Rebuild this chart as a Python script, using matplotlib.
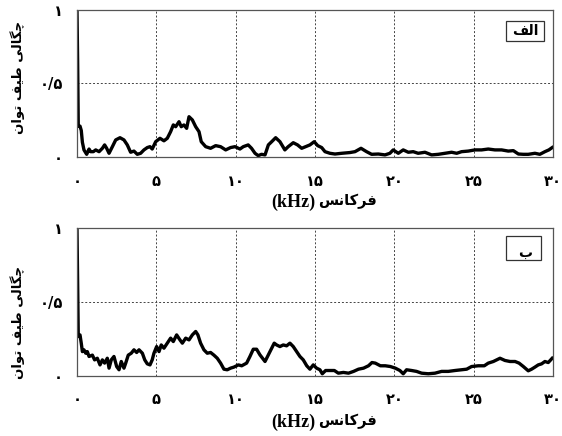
import matplotlib
matplotlib.use("Agg")
import matplotlib.pyplot as plt
from matplotlib.ticker import FixedLocator
from matplotlib.patches import Rectangle

# ---------------- data ----------------
freq_a = [0.0, 0.04, 0.08, 0.19, 0.27, 0.34, 0.44, 0.61, 0.76, 0.86, 1.03, 1.18, 1.39, 1.6, 1.74,
          1.87, 2.02, 2.23, 2.44, 2.71, 2.96, 3.17, 3.38, 3.59, 3.8, 4.01, 4.22, 4.43, 4.6,
          4.74, 4.96, 5.23, 5.48, 5.69, 5.9, 6.07, 6.22, 6.43, 6.57, 6.74, 6.91, 7.06, 7.27,
          7.48, 7.69, 7.83, 8.11, 8.42, 8.74, 9.05, 9.37, 9.68, 9.96, 10.27, 10.48, 10.79,
          11.0, 11.22, 11.42, 11.63, 11.85, 12.06, 12.27, 12.52, 12.79, 13.1, 13.31, 13.63,
          13.9, 14.16, 14.41, 14.68, 14.95, 15.17, 15.42, 15.63, 15.94, 16.26, 16.68, 17.2,
          17.52, 17.9, 18.25, 18.57, 18.99, 19.41, 19.72, 19.93, 20.25, 20.56, 20.88, 21.19,
          21.5, 21.93, 22.35, 22.77, 23.19, 23.61, 23.93, 24.24, 24.66, 25.08, 25.5, 25.92,
          26.34, 26.76, 27.18, 27.5, 27.82, 28.13, 28.44, 28.86, 29.17, 29.49, 29.74, 29.95]
psd_a = [1.0, 0.65, 0.21, 0.21, 0.18, 0.10, 0.048, 0.018, 0.054, 0.036, 0.036, 0.048, 0.036,
         0.059, 0.082, 0.059, 0.025, 0.07, 0.116, 0.131, 0.116, 0.082, 0.032, 0.04, 0.018,
         0.025, 0.048, 0.064, 0.07, 0.054, 0.104, 0.127, 0.11, 0.127, 0.172, 0.218, 0.206,
         0.24, 0.206, 0.218, 0.195, 0.274, 0.252, 0.206, 0.172, 0.104, 0.07, 0.059, 0.077,
         0.07, 0.048, 0.064, 0.07, 0.054, 0.07, 0.082, 0.059, 0.025, 0.009, 0.018, 0.014,
         0.082, 0.104, 0.131, 0.104, 0.048, 0.07, 0.097, 0.082, 0.059, 0.07, 0.082, 0.104,
         0.077, 0.064, 0.036, 0.025, 0.02, 0.025, 0.03, 0.036, 0.059, 0.036, 0.018, 0.02,
         0.014, 0.025, 0.048, 0.025, 0.048, 0.032, 0.036, 0.025, 0.032, 0.014, 0.018, 0.025,
         0.032, 0.025, 0.036, 0.04, 0.048, 0.048, 0.054, 0.048, 0.048, 0.04, 0.043, 0.02,
         0.018, 0.018, 0.025, 0.018, 0.036, 0.048, 0.064]

freq_b = [0.0, 0.04, 0.08, 0.19, 0.27, 0.34, 0.44, 0.55, 0.65, 0.76, 0.97, 1.11, 1.28, 1.45,
          1.6, 1.74, 1.91, 2.02, 2.16, 2.33, 2.5, 2.65, 2.79, 2.96, 3.07, 3.23, 3.42, 3.59,
          3.76, 3.91, 4.12, 4.27, 4.43, 4.6, 4.74, 4.85, 5.02, 5.17, 5.31, 5.48, 5.69, 5.9,
          6.07, 6.28, 6.49, 6.64, 6.85, 7.06, 7.27, 7.48, 7.62, 7.79, 8.0, 8.21, 8.42, 8.63,
          8.84, 9.05, 9.26, 9.47, 9.68, 9.89, 10.17, 10.38, 10.69, 10.9, 11.11, 11.32, 11.53,
          11.85, 12.06, 12.27, 12.43, 12.58, 12.79, 13.0, 13.21, 13.42, 13.63, 13.84, 14.05,
          14.26, 14.48, 14.68, 14.89, 15.1, 15.31, 15.46, 15.67, 15.94, 16.22, 16.47, 16.79,
          17.11, 17.43, 17.74, 18.06, 18.37, 18.59, 18.8, 19.12, 19.43, 19.75, 20.06, 20.35,
          20.56, 20.77, 21.09, 21.4, 21.72, 22.14, 22.56, 22.98, 23.4, 23.82, 24.24, 24.56,
          24.87, 25.29, 25.67, 25.92, 26.24, 26.66, 26.97, 27.29, 27.61, 27.86, 28.13, 28.44,
          28.65, 28.86, 29.07, 29.28, 29.49, 29.7, 29.95]
psd_b = [1.0, 0.65, 0.266, 0.277, 0.22, 0.164, 0.176, 0.153, 0.164, 0.131, 0.14, 0.108, 0.119,
         0.074, 0.108, 0.086, 0.119, 0.052, 0.108, 0.131, 0.063, 0.041, 0.097, 0.052, 0.086,
         0.14, 0.153, 0.176, 0.158, 0.176, 0.153, 0.108, 0.081, 0.074, 0.108, 0.153, 0.198,
         0.164, 0.209, 0.187, 0.221, 0.255, 0.232, 0.277, 0.243, 0.221, 0.255, 0.243, 0.277,
         0.30, 0.277, 0.221, 0.176, 0.153, 0.158, 0.14, 0.119, 0.086, 0.045, 0.041, 0.052,
         0.059, 0.074, 0.068, 0.086, 0.131, 0.18, 0.18, 0.142, 0.097, 0.142, 0.187, 0.221,
         0.209, 0.198, 0.209, 0.203, 0.221, 0.198, 0.164, 0.131, 0.108, 0.068, 0.045, 0.074,
         0.052, 0.041, 0.014, 0.036, 0.036, 0.036, 0.018, 0.023, 0.018, 0.03, 0.045, 0.052,
         0.068, 0.09, 0.086, 0.068, 0.068, 0.063, 0.052, 0.036, 0.014, 0.041, 0.036, 0.03,
         0.018, 0.014, 0.018, 0.03, 0.03, 0.036, 0.041, 0.045, 0.063, 0.068, 0.068, 0.086,
         0.097, 0.119, 0.104, 0.097, 0.097, 0.086, 0.063, 0.034, 0.045, 0.059, 0.074, 0.081,
         0.097, 0.09, 0.119]

x_ticks = [0, 5, 10, 15, 20, 25, 30]
x_tick_labels = ["\u06F0", "\u06F5", "\u06F1\u06F0", "\u06F1\u06F5", "\u06F2\u06F0", "\u06F2\u06F5", "\u06F3\u06F0"]
y_ticks = [0, 0.5, 1]
y_tick_labels = ["\u06F0", "\u06F0/\u06F5", "\u06F1"]

# Persian texts, written with Arabic presentation forms in visual (left-to-right) order
x_label_unit = "(kHz)"
x_label_fa = "\uFEB2\uFEE7\uFE8E\uFB90\uFEAE\uFED3"          # "فرکانس"
# "چگالی طیف توان"
y_label = "\uFEE5\uFE8D\uFEEE\uFE97" + " " + "\uFED2\uFBFF\uFEC3" + " " + "\uFBFD\uFEDF\uFE8E\uFB95\uFB7C"
panel_labels = ["\uFED2\uFEDF\uFE8D", "\uFE8F"]  # "الف", "ب"

fam_lat = ["Liberation Serif", "DejaVu Sans"]
fam_ar = ["DejaVu Sans"]

W, H = 562, 436
fig = plt.figure(figsize=(W / 100, H / 100), dpi=100)
axes_pos = [[0.137, 0.640, 0.847, 0.337], [0.137, 0.138, 0.847, 0.339]]
series = [(freq_a, psd_a), (freq_b, psd_b)]
xlabel_y = [202, 422]
ylabel_y = [77, 322]
# label box rectangles in axes fractions (x0, y0, w, h) and text centre
boxes = [((0.901, 0.790), 0.080, 0.135, (0.941, 0.857)),
         ((0.901, 0.784), 0.074, 0.162, (0.941, 0.835))]

for i, (pos, (fx, py)) in enumerate(zip(axes_pos, series)):
    ax = fig.add_axes(pos)
    ax.plot(fx, py, color="black", linewidth=2.4, solid_joinstyle="round")
    ax.set_xlim(0, 30)
    ax.set_ylim(0, 1)
    ax.xaxis.set_major_locator(FixedLocator(x_ticks))
    ax.yaxis.set_major_locator(FixedLocator(y_ticks))
    ax.set_xticklabels(x_tick_labels, family=fam_ar, fontweight="bold", fontsize=10.5)
    ax.set_yticklabels(y_tick_labels, family=fam_ar, fontweight="bold", fontsize=10.5)
    ax.tick_params(axis="x", length=0, pad=12)
    ax.tick_params(axis="y", length=0, pad=10)
    ax.grid(True, color="#444444", linestyle=(0, (2, 2)), linewidth=0.7)
    for s in ax.spines.values():
        s.set_color("#555555")
        s.set_linewidth(0.9)
    (bx, by), bw, bh, (tx, ty) = boxes[i]
    ax.add_patch(Rectangle((bx, by), bw, bh, transform=ax.transAxes, facecolor="white",
                           edgecolor="#333333", linewidth=0.9, zorder=5))
    ax.text(tx, ty, panel_labels[i], transform=ax.transAxes, ha="center", va="center",
            family=fam_ar, fontweight="bold", fontsize=10, zorder=6)
    fig.text(315 / W, 1 - xlabel_y[i] / H, x_label_unit, ha="right", va="center",
             family=fam_lat, fontweight="bold", fontsize=13)
    fig.text(318 / W, 1 - (xlabel_y[i] - 1) / H, x_label_fa, ha="left", va="center",
             family=fam_ar, fontweight="bold", fontsize=10.5)
    fig.text(18 / W, 1 - ylabel_y[i] / H, y_label, ha="center", va="center",
             rotation=90, family=fam_ar, fontweight="bold", fontsize=9.5)

fig.savefig("out.png", dpi=100)
